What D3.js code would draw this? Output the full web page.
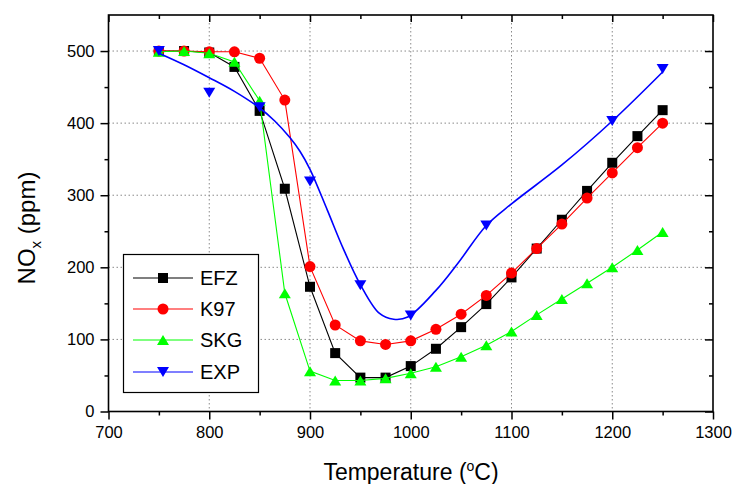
<!DOCTYPE html>
<html>
<head>
<meta charset="utf-8">
<script src="https://cdn.jsdelivr.net/npm/d3@7/dist/d3.min.js"></script>
<style>
  html, body { margin: 0; padding: 0; background: #fff; }
  svg { display: block; font-family: "Liberation Sans", Arial, sans-serif; }
</style>
</head>
<body>
<svg id="chart" width="734" height="484"></svg>
<script>
// Temperature grid (°C) shared by the three model series
const temps = [750, 775, 800, 825, 850, 875, 900, 925, 950, 975, 1000, 1025,
               1050, 1075, 1100, 1125, 1150, 1175, 1200, 1225, 1250];
// NOx (ppm) per model
const efz = [500, 500, 498, 478, 417, 309, 173, 81, 47, 47, 63, 87,
             117, 149, 186, 226, 266, 306, 345, 382, 418];
const k97 = [500, 500, 499, 499, 490, 432, 201, 120, 98, 93, 98, 114,
             135, 161, 192, 226, 260, 296, 331, 366, 400];
const skg = [499, 500, 497, 485, 431, 164, 56, 43, 43, 46, 53, 62,
             76, 92, 111, 134, 156, 178, 200, 224, 249];
// Measured points
const expT = [750, 800, 850, 900, 950, 1000, 1075, 1200, 1250];
const expV = [500, 442, 422, 319, 175, 133, 258, 403, 475];
// Smoothed trend line through the measurements
const expFitT = [750, 775, 800, 825, 850, 865, 880, 890, 900, 917, 933, 950, 969,
                 983, 997, 1025, 1047, 1075, 1100, 1150, 1200, 1250];
const expFitV = [497, 481, 463, 444, 421, 403, 380, 361, 336, 280, 226, 176, 136,
                 128, 131, 168, 206, 258, 288, 342, 403, 471];

const seriesNames = ["EFZ", "K97", "SKG", "EXP"];
const xTicks = [700, 800, 900, 1000, 1100, 1200, 1300];
const yTicks = [0, 100, 200, 300, 400, 500];

const svg = d3.select("#chart");
const L = 108.5, R = 713, T = 15, B = 411.5;

const x = d3.scaleLinear().domain([700, 1300]).range([L, R]);
const y = d3.scaleLinear().domain([0, 550]).range([B, T]);

// Dotted grid at major ticks
const grid = svg.append("g").attr("stroke", "#8a8a8a").attr("stroke-width", 1)
  .attr("stroke-dasharray", "1.5,2.5");
xTicks.slice(1, -1).forEach(t => {
  grid.append("line").attr("x1", x(t)).attr("x2", x(t)).attr("y1", T).attr("y2", B);
});
yTicks.slice(1).forEach(t => {
  grid.append("line").attr("x1", L).attr("x2", R).attr("y1", y(t)).attr("y2", y(t));
});

// Axes: major + minor ticks, outward on bottom/left, inward on top/right
const minorX = d3.range(750, 1300, 100);
const minorY = d3.range(50, 550, 100);

function styleAxis(g) {
  g.select(".domain").remove();
  g.selectAll(".tick line").attr("stroke", "#000").attr("stroke-width", 1.5);
  g.selectAll("text").attr("fill", "#000").style("font-size", "16.5px")
    .style("font-family", "'Liberation Sans', Arial, sans-serif");
}

svg.append("g").attr("transform", `translate(0,${B})`)
  .call(d3.axisBottom(x).tickValues(xTicks).tickSize(8).tickPadding(7).tickFormat(d3.format("d")))
  .call(styleAxis);
svg.append("g").attr("transform", `translate(0,${B})`)
  .call(d3.axisBottom(x).tickValues(minorX).tickSize(4).tickFormat(""))
  .call(styleAxis);
svg.append("g").attr("transform", `translate(${L},0)`)
  .call(d3.axisLeft(y).tickValues(yTicks).tickSize(8).tickPadding(6).tickFormat(d3.format("d")))
  .call(styleAxis);
svg.append("g").attr("transform", `translate(${L},0)`)
  .call(d3.axisLeft(y).tickValues(minorY).tickSize(4).tickFormat(""))
  .call(styleAxis);
svg.append("g").attr("transform", `translate(0,${T})`)
  .call(d3.axisTop(x).tickValues(xTicks).tickSize(-7).tickFormat(""))
  .call(styleAxis);
svg.append("g").attr("transform", `translate(0,${T})`)
  .call(d3.axisTop(x).tickValues(minorX).tickSize(-4).tickFormat(""))
  .call(styleAxis);
svg.append("g").attr("transform", `translate(${R},0)`)
  .call(d3.axisRight(y).tickValues(yTicks).tickSize(-8).tickFormat(""))
  .call(styleAxis);
svg.append("g").attr("transform", `translate(${R},0)`)
  .call(d3.axisRight(y).tickValues(minorY).tickSize(-4).tickFormat(""))
  .call(styleAxis);

// Frame
svg.append("rect").attr("x", L).attr("y", T).attr("width", R - L).attr("height", B - T)
  .attr("fill", "none").attr("stroke", "#000").attr("stroke-width", 1.6);

// Markers
function downTri(cx, cy) {
  const w = 6, h = 10;
  return `M${cx - w},${cy - h / 2}L${cx + w},${cy - h / 2}L${cx},${cy + h / 2}Z`;
}
function upTri(cx, cy) {
  const w = 6, h = 10;
  return `M${cx - w},${cy + h / 2}L${cx + w},${cy + h / 2}L${cx},${cy - h / 2}Z`;
}

const series = [
  { xs: temps, vs: efz, lineX: temps, lineV: efz, color: "#000000", marker: "square", curve: d3.curveLinear, lw: 1.1 },
  { xs: temps, vs: k97, lineX: temps, lineV: k97, color: "#ff0000", marker: "circle", curve: d3.curveLinear, lw: 1.1 },
  { xs: temps, vs: skg, lineX: temps, lineV: skg, color: "#00ff00", marker: "up", curve: d3.curveLinear, lw: 1.1 },
  { xs: expT, vs: expV, lineX: expFitT, lineV: expFitV, color: "#0000ff", marker: "down", curve: d3.curveCatmullRom.alpha(0.5), lw: 1.6 },
];

function drawMarker(g, kind, cx, cy, color) {
  if (kind === "square") {
    g.append("rect").attr("x", cx - 5).attr("y", cy - 5).attr("width", 10).attr("height", 10)
      .attr("fill", color);
  } else if (kind === "circle") {
    g.append("circle").attr("cx", cx).attr("cy", cy).attr("r", 5.5).attr("fill", color);
  } else if (kind === "up") {
    g.append("path").attr("d", upTri(cx, cy)).attr("fill", color);
  } else {
    g.append("path").attr("d", downTri(cx, cy)).attr("fill", color);
  }
}

series.forEach(s => {
  const linePts = s.lineX.map((t, i) => [t, s.lineV[i]]);
  const g = svg.append("g");
  g.append("path")
    .attr("d", d3.line().x(d => x(d[0])).y(d => y(d[1])).curve(s.curve)(linePts))
    .attr("fill", "none").attr("stroke", s.color).attr("stroke-width", s.lw);
  s.xs.forEach((t, i) => drawMarker(g, s.marker, x(t), y(s.vs[i]), s.color));
});

// Legend
const lg = svg.append("g");
lg.append("rect").attr("x", 123.5).attr("y", 254.5).attr("width", 135).attr("height", 138)
  .attr("fill", "#fff").attr("stroke", "#000").attr("stroke-width", 1.2);
const rowY = [278, 309, 340, 372];
series.forEach((s, i) => {
  lg.append("line").attr("x1", 133).attr("x2", 193).attr("y1", rowY[i]).attr("y2", rowY[i])
    .attr("stroke", s.color).attr("stroke-width", 1.1);
  drawMarker(lg, s.marker, 163, rowY[i], s.color);
  lg.append("text").attr("x", 200).attr("y", rowY[i]).attr("dy", "0.36em")
    .style("font-size", "20px").attr("fill", "#000").text(seriesNames[i]);
});

// Axis titles
const xt = svg.append("text").attr("x", 411).attr("y", 480)
  .attr("text-anchor", "middle").style("font-size", "23px").attr("fill", "#000");
xt.append("tspan").text("Temperature (");
xt.append("tspan").attr("dy", "-9").style("font-size", "14px").text("o");
xt.append("tspan").attr("dy", "9").text("C)");

const yt = svg.append("text").attr("transform", `translate(35,228) rotate(-90)`)
  .attr("text-anchor", "middle").style("font-size", "24px").attr("fill", "#000");
yt.append("tspan").text("NO");
yt.append("tspan").attr("dy", "6").style("font-size", "15px").text("x");
yt.append("tspan").attr("dy", "-6").text(" (ppm)");
</script>
</body>
</html>
